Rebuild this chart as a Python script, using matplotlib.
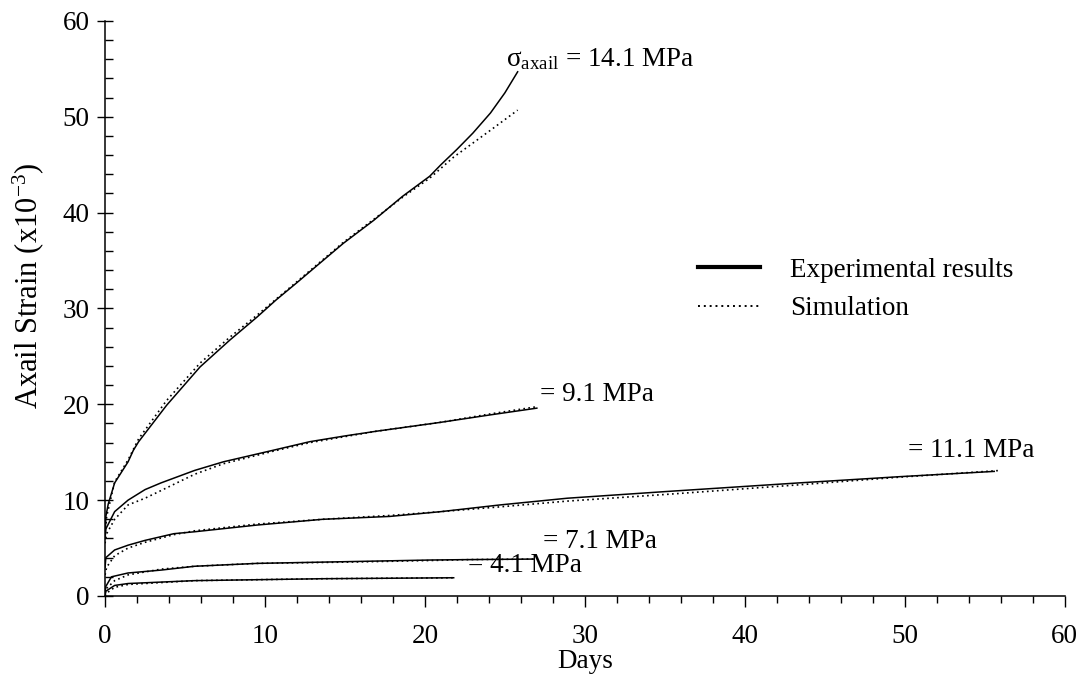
import numpy as np
import matplotlib
matplotlib.use("Agg")
import matplotlib.pyplot as plt
from matplotlib.lines import Line2D
from matplotlib.ticker import MultipleLocator

plt.rcParams['font.family'] = ['Liberation Serif', 'DejaVu Serif']
plt.rcParams['mathtext.fontset'] = 'custom'
plt.rcParams['mathtext.rm'] = 'Liberation Serif'
plt.rcParams['mathtext.it'] = 'Liberation Serif:italic'

# 14.1 MPa
d141_exp = [0, 0.05, 0.2, 0.6, 1.44, 1.77, 2.1, 3.85, 5.94, 7.8, 9.5, 10.7, 12.0,
            13.2, 14.9, 16.8, 18.6, 20.3, 21.0, 22.0, 23.0, 24.1, 25.0, 25.8]
e141_exp = [6.0, 8.3, 9.6, 11.8, 14.0, 15.2, 16.1, 19.9, 23.9, 26.7, 29.1, 30.9, 32.7,
            34.4, 36.8, 39.2, 41.7, 43.8, 45.0, 46.6, 48.3, 50.4, 52.5, 54.7]
d141_sim = [0, 0.1, 0.6, 1.44, 2.1, 3.85, 5.94, 7.8, 9.5, 12.0, 14.9, 16.8, 18.6,
            20.3, 21.8, 24.1, 25.8]
e141_sim = [6.0, 8.3, 11.9, 14.2, 16.4, 20.4, 24.3, 27.0, 29.3, 32.8, 36.9, 39.3, 41.6,
            43.6, 45.8, 48.6, 50.7]

# 9.1 MPa
d91_exp = [0, 0.05, 0.6, 1.44, 2.5, 3.5, 5.6, 7.4, 10.5, 12.8, 15.0, 17.0, 20.9, 24.1, 27.0]
e91_exp = [6.0, 7.0, 8.8, 10.0, 11.1, 11.8, 13.1, 14.0, 15.2, 16.1, 16.7, 17.2, 18.1, 18.9, 19.6]
d91_sim = [0, 0.1, 0.6, 1.44, 2.5, 3.5, 5.6, 7.4, 10.5, 12.8, 17.0, 20.9, 24.1, 27.0]
e91_sim = [5.5, 6.5, 8.0, 9.5, 10.2, 11.0, 12.7, 13.8, 15.1, 16.0, 17.2, 18.1, 19.0, 19.75]

# 11.1 MPa
d111_exp = [0, 0.05, 0.6, 1.44, 2.5, 4.3, 5.6, 9.5, 13.6, 17.8, 21.0, 24.7, 28.9,
            35.1, 43.4, 49.7, 55.6]
e111_exp = [3.0, 4.0, 4.8, 5.3, 5.8, 6.5, 6.7, 7.4, 8.0, 8.3, 8.8, 9.5, 10.2,
            10.9, 11.8, 12.45, 13.0]
d111_sim = [0, 0.1, 0.6, 1.44, 2.5, 4.3, 5.6, 9.5, 13.6, 17.8, 21.0, 24.7, 28.9,
            35.1, 43.4, 49.7, 56.0]
e111_sim = [2.2, 3.0, 4.2, 5.0, 5.6, 6.4, 6.8, 7.5, 8.0, 8.4, 8.8, 9.3, 9.9,
            10.6, 11.6, 12.4, 13.1]

# 7.1 MPa
d71_exp = [0, 0.05, 0.4, 1.44, 3.5, 5.6, 9.5, 15.7, 20.3, 23.0, 26.8]
e71_exp = [0.5, 1.0, 2.0, 2.4, 2.7, 3.1, 3.4, 3.6, 3.75, 3.8, 3.85]
d71_sim = [0, 0.1, 0.6, 1.44, 3.5, 5.6, 9.5, 15.7, 20.3, 23.0, 26.8]
e71_sim = [0.3, 0.8, 1.6, 2.2, 2.8, 3.1, 3.4, 3.55, 3.7, 3.8, 3.85]

# 4.1 MPa
d41_exp = [0, 0.05, 0.6, 1.44, 5.6, 13.6, 21.8]
e41_exp = [0.0, 0.5, 1.1, 1.3, 1.6, 1.8, 1.9]
d41_sim = [0, 0.1, 0.6, 1.44, 5.6, 13.6, 21.8]
e41_sim = [0.0, 0.3, 0.9, 1.2, 1.6, 1.8, 1.9]

labels = [r"$\mathrm{\sigma_{axail}}$ = 14.1 MPa", "= 9.1 MPa", "= 11.1 MPa",
          "= 7.1 MPa", "= 4.1 MPa"]
label_pos = [(25.1, 56.0), (27.2, 21.0), (50.2, 15.2), (27.4, 5.7), (22.7, 3.2)]

curves = [
    (d141_exp, e141_exp, d141_sim, e141_sim),
    (d91_exp, e91_exp, d91_sim, e91_sim),
    (d111_exp, e111_exp, d111_sim, e111_sim),
    (d71_exp, e71_exp, d71_sim, e71_sim),
    (d41_exp, e41_exp, d41_sim, e41_sim),
]

fs = 19.5

fig = plt.figure(figsize=(10.83, 6.84), dpi=100)
ax = fig.add_axes([0.097, 0.1287, 0.886, 0.8406])

for (dx, ex, ds, es) in curves:
    ax.plot(dx, ex, color="k", lw=1.1, solid_joinstyle="round")
    ax.plot(ds, es, color="k", lw=1.2, dashes=(1, 2))

for txt, (x, y) in zip(labels, label_pos):
    ax.text(x, y, txt, fontsize=fs, va="center", ha="left")

ax.set_xlim(0, 60)
ax.set_ylim(0, 60)
ax.xaxis.set_major_locator(MultipleLocator(10))
ax.xaxis.set_minor_locator(MultipleLocator(2))
ax.yaxis.set_major_locator(MultipleLocator(10))
ax.yaxis.set_minor_locator(MultipleLocator(2))
ax.tick_params(axis="x", which="major", direction="out", length=8, width=1, labelsize=fs, pad=12)
ax.tick_params(axis="x", which="minor", direction="out", length=5, width=1)
ax.tick_params(axis="y", which="major", direction="inout", length=12, width=1, labelsize=fs, pad=5)
ax.tick_params(axis="y", which="minor", direction="in", length=6, width=1)

for s in ("top", "right"):
    ax.spines[s].set_visible(False)
for s in ("left", "bottom"):
    ax.spines[s].set_linewidth(1.1)

ax.set_xlabel("Days", fontsize=fs, labelpad=0)
ax.set_ylabel(r"Axail Strain (x10$^{-3}$)", fontsize=22)
ax.yaxis.set_label_coords(-0.062, 0.54)

handles = [Line2D([], [], color="k", lw=3),
           Line2D([], [], color="k", lw=1.4, dashes=(1, 2))]
ax.legend(handles, ["Experimental results", "Simulation"], loc="upper left",
          bbox_to_anchor=(0.618, 0.588), frameon=False, fontsize=fs,
          handlelength=2.3, handletextpad=1.1, labelspacing=0.5,
          borderpad=0, borderaxespad=0)

fig.savefig("out.png", dpi=100)
